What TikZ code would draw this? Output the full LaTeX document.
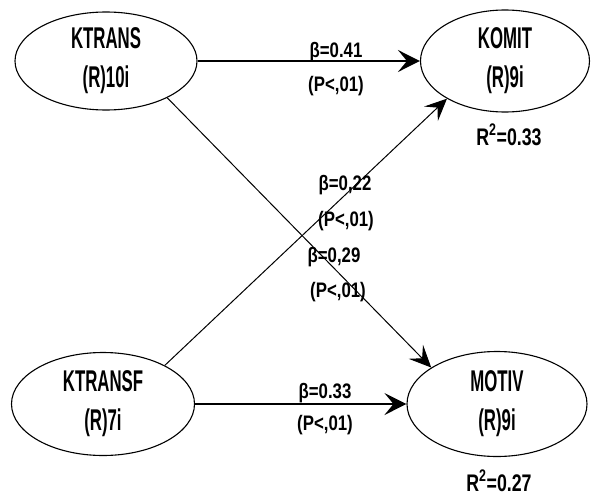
\documentclass[tikz,border=0pt]{standalone}
\usepackage{fontspec}
\setmainfont{Liberation Sans}
\newfontfamily\nodefont{Liberation Sans}[FakeStretch=0.56]
\newfontfamily\labfont{Liberation Sans}[FakeStretch=0.8]
\newfontfamily\rsqfont{Liberation Sans}[FakeStretch=0.74]
\usetikzlibrary{shapes.geometric,arrows.meta}
\tikzset{
  latent/.style={ellipse, draw, line width=1.1pt, inner sep=0pt, align=center,
    font=\nodefont\bfseries\fontsize{30}{39}\selectfont},
  lab/.style={inner sep=0pt, anchor=base, font=\labfont\bfseries\fontsize{21}{24}\selectfont},
  rsq/.style={inner sep=0pt, anchor=base, text depth=0pt, font=\rsqfont\bfseries\fontsize{24}{26}\selectfont},
  path1/.style={line width=1.8pt, -{Stealth[length=22pt,width=22pt,inset=9pt]}},
  path2/.style={line width=1pt, -{Stealth[length=22pt,width=20pt,inset=9pt]}}
}
\begin{document}
\begin{tikzpicture}[x=1pt,y=-1pt]
\useasboundingbox (0,0) rectangle (591,495);
\node[latent, minimum width=182pt, minimum height=98pt] (ktrans) at (106,61) {KTRANS\\(R)10i};
\node[latent, minimum width=169pt, minimum height=102pt] (komit) at (505,61) {KOMIT\\(R)9i};
\node[latent, minimum width=183pt, minimum height=103pt] (ktransf) at (103,404) {KTRANSF\\(R)7i};
\node[latent, minimum width=180pt, minimum height=105pt] (motiv) at (497,404) {MOTIV\\(R)9i};

\node[rsq] (r2komit) at (509,145) {R\textsuperscript{2}=0.33};
\node[rsq] (r2motiv) at (499,491) {R\textsuperscript{2}=0.27};

\draw[path1] (ktrans.east) -- (komit.west);
\draw[path1] (ktransf.east) -- (motiv.west);
\draw[path2] (ktrans.-31) -- (motiv.151);
\draw[path2] (ktransf.32) -- (komit.213);

\node[lab] (b1) at (336,58) {β=0.41};
\node[lab] (p1) at (336,91) {(P<,01)};
\node[lab] (b2) at (345,190) {β=0,22};
\node[lab] (p2) at (346,226) {(P<,01)};
\node[lab] (b3) at (334,262) {β=0,29};
\node[lab] (p3) at (338,297) {(P<,01)};
\node[lab] (b4) at (325,398) {β=0.33};
\node[lab] (p4) at (325,430) {(P<,01)};
\end{tikzpicture}
\end{document}
